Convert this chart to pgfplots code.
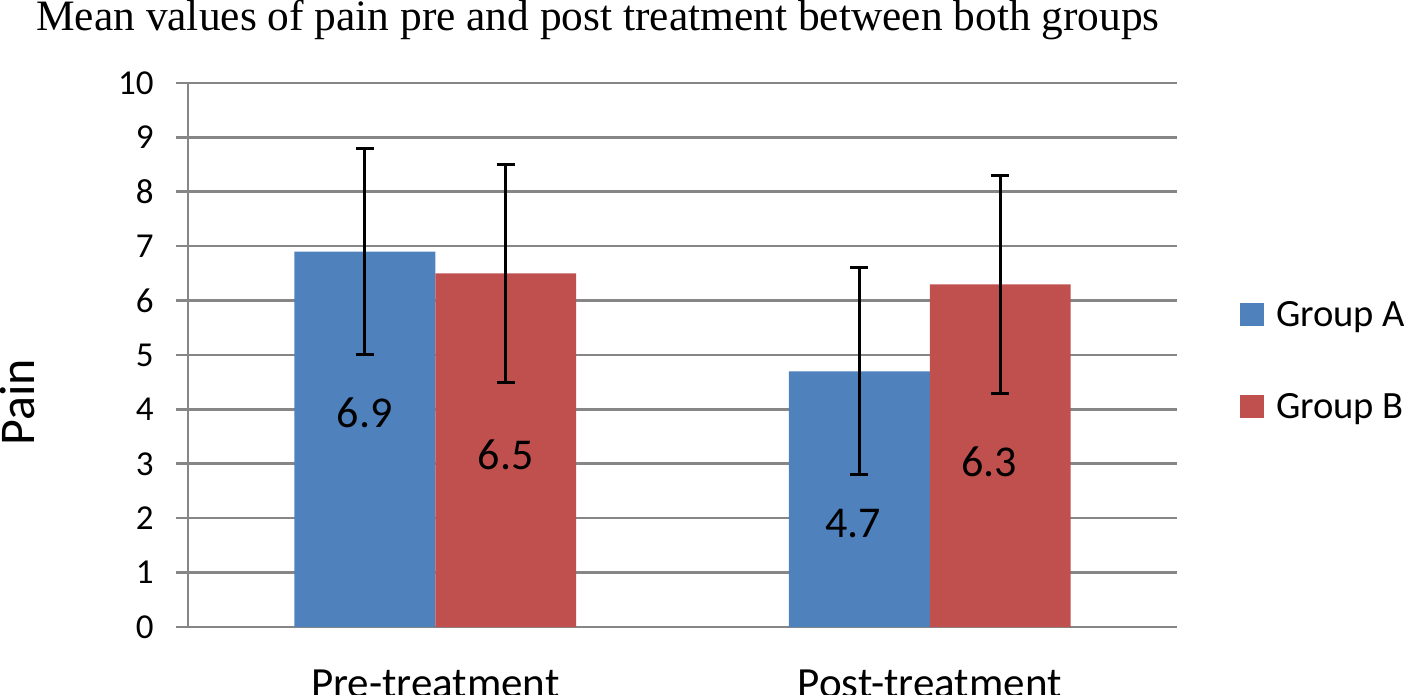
\documentclass[border=0pt]{standalone}
\usepackage{pgfplots}
\pgfplotsset{compat=1.18}
\usepackage{fontspec}
\setmainfont{Carlito}
\newfontfamily\titlefont{Liberation Serif}
\definecolor{barA}{RGB}{79,129,189}
\definecolor{barB}{RGB}{192,80,77}
\definecolor{gridc}{RGB}{134,134,134}
\begin{document}
\begin{tikzpicture}
\useasboundingbox (-94pt,-34pt) rectangle (614.5pt,313.5pt);
\begin{axis}[
  at={(0,0)}, anchor=south west,
  scale only axis,
  width=494.5pt, height=272pt,
  xmin=-0.5, xmax=1.5,
  ymin=0, ymax=10,
  ytick={0,1,...,10},
  ymajorgrids,
  grid style={draw=gridc, line width=1.3pt},
  axis x line*=bottom,
  axis y line*=left,
  axis line style={draw=gridc, line width=1.3pt},
  separate axis lines,
  y axis line style={-},
  x axis line style={-},
  tick align=outside,
  ytick style={draw=gridc, line width=1.3pt},
  major tick length=6pt,
  xtick={0,1},
  xticklabels={Pre-treatment,Post-treatment},
  xtick style={draw=none},
  extra x ticks={-0.5,0.5,1.5},
  extra x tick labels={},
  extra x tick style={grid=none, tick style={draw=gridc, line width=1.3pt}, major tick length=8.5pt},
  xticklabel style={font=\fontsize{21.5}{24}\selectfont, inner sep=0pt, anchor=north, yshift=-15.5pt},
  yticklabel style={font=\fontsize{17.5}{20}\selectfont, inner sep=0pt, anchor=east, xshift=-11pt},
  /pgf/number format/assume math mode=true,
  ybar, bar width=0.285,
  legend style={draw=none, fill=none, inner sep=0pt, outer sep=0pt,
    at={(1.0637,0.5974)}, anchor=north west,
    font=\fontsize{19.3}{21}\selectfont,
    nodes={inner sep=0pt, text height=12pt, text depth=4pt},
    row sep=30pt, column sep=6pt},
  legend cell align=left,
  legend image code/.code={\path[#1, draw=none] (0pt,-4pt) rectangle (12pt,7.5pt);},
  error bars/error bar style={line width=1.5pt, black},
  error bars/error mark options={rotate=90, line width=1.5pt, mark size=4.5pt, black},
  clip=false,
]
\addplot[fill=barA, draw=none, bar shift=-0.1425,
  error bars/.cd, y dir=both, y explicit]
  coordinates {(0,6.9) +- (0,1.9) (1,4.7) +- (0,1.9)};
\addlegendentry{Group A}
\addplot[fill=barB, draw=none, bar shift=0.1425,
  error bars/.cd, y dir=both, y explicit]
  coordinates {(0,6.5) +- (0,2.0) (1,6.3) +- (0,2.0)};
\addlegendentry{Group B}
\node[font=\fontsize{22}{24}\selectfont, inner sep=0pt] at (axis cs:-0.1425,3.93) {6.9};
\node[font=\fontsize{22}{24}\selectfont, inner sep=0pt] at (axis cs:0.1425,3.16) {6.5};
\node[font=\fontsize{22}{24}\selectfont, inner sep=0pt] at (axis cs:0.845,1.91) {4.7};
\node[font=\fontsize{22}{24}\selectfont, inner sep=0pt] at (axis cs:1.12,3.03) {6.3};
\end{axis}
\node[anchor=base west, inner sep=0pt, font=\titlefont\fontsize{21.7}{24}\selectfont] at (-76pt,298pt) {Mean values of pain pre and post treatment between both groups};
\node[rotate=90, anchor=base, inner sep=0pt, font=\fontsize{25}{28}\selectfont] at (-76.5pt,112.5pt) {Pain};
\end{tikzpicture}
\end{document}
